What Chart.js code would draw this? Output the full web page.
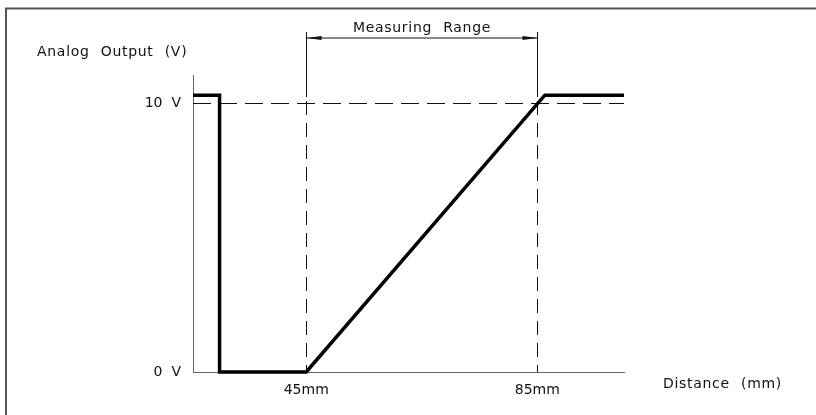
<!DOCTYPE html>
<html>
<head>
<meta charset="utf-8">
<script src="https://cdn.jsdelivr.net/npm/chart.js@4.4.1/dist/chart.umd.min.js"></script>
<style>
  html, body { margin: 0; padding: 0; background: #fff; }
  #wrap { width: 816px; height: 415px; position: relative; }
</style>
</head>
<body>
<div id="wrap"><canvas id="c" width="816" height="415"></canvas></div>
<script>
// ---- data ----
const distanceMm = [25.4, 30, 30, 45, 86.3, 100];
const outputV    = [10.3, 10.3, 0, 0, 10.3, 10.3];
const xTicks = [45, 85];
const xTickLabels = ['45mm', '85mm'];
const yTicks = [0, 10];
const yTickLabels = ['0  V', '10  V'];
const rangeStart = 45;
const rangeEnd = 85;
const fullScaleV = 10;
const yTitle = 'Analog Output (V)';
const xTitle = 'Distance (mm)';
const rangeTitle = 'Measuring Range';

const FONT = '"DejaVu Sans", sans-serif';

const overlay = {
  id: 'overlay',
  beforeDraw(chart) {
    const ctx = chart.ctx;
    ctx.save();
    ctx.strokeStyle = '#555';
    ctx.lineWidth = 2;
    ctx.beginPath();
    ctx.moveTo(816, 8.5); ctx.lineTo(6, 8.5); ctx.lineTo(6, 415);
    ctx.stroke();
    ctx.restore();
  },
  beforeDatasetsDraw(chart) {
    const ctx = chart.ctx;
    const xs = chart.scales.x, ys = chart.scales.y;
    const a = chart.chartArea;
    ctx.save();
    ctx.strokeStyle = '#111';
    ctx.lineWidth = 1;
    const y10 = Math.round(ys.getPixelForValue(fullScaleV)) + 0.5;
    ctx.setLineDash([18, 8]);
    ctx.beginPath();
    ctx.moveTo(a.left, y10); ctx.lineTo(a.right, y10);
    ctx.stroke();
    const top = 32;
    const solidEnd = 97;
    [rangeStart, rangeEnd].forEach(v => {
      const x = Math.round(xs.getPixelForValue(v)) + 0.5;
      ctx.setLineDash([]);
      ctx.beginPath(); ctx.moveTo(x, top); ctx.lineTo(x, solidEnd); ctx.stroke();
      ctx.setLineDash([14, 8]);
      ctx.beginPath(); ctx.moveTo(x, solidEnd + 4); ctx.lineTo(x, a.bottom); ctx.stroke();
    });
    const x1 = Math.round(xs.getPixelForValue(rangeStart)) + 0.5;
    const x2 = Math.round(xs.getPixelForValue(rangeEnd)) + 0.5;
    const yd = 38;
    ctx.setLineDash([]);
    ctx.beginPath(); ctx.moveTo(x1, yd); ctx.lineTo(x2, yd); ctx.stroke();
    ctx.fillStyle = '#111';
    ctx.beginPath(); ctx.moveTo(x1, yd); ctx.lineTo(x1 + 15, yd - 2); ctx.lineTo(x1 + 15, yd + 2); ctx.closePath(); ctx.fill();
    ctx.beginPath(); ctx.moveTo(x2, yd); ctx.lineTo(x2 - 15, yd - 2); ctx.lineTo(x2 - 15, yd + 2); ctx.closePath(); ctx.fill();
    ctx.font = '14px ' + FONT;
    ctx.fillStyle = '#111';
    ctx.textBaseline = 'middle';
    ctx.wordSpacing = '6px';
    ctx.letterSpacing = '0.7px';
    ctx.textAlign = 'center';
    ctx.fillText(rangeTitle, (x1 + x2) / 2, 28);
    ctx.textAlign = 'left';
    ctx.fillText(yTitle, 37, 52);
    ctx.fillText(xTitle, 663, 384);
    ctx.restore();
  }
};

new Chart(document.getElementById('c'), {
  type: 'line',
  data: {
    datasets: [{
      data: distanceMm.map((x, i) => ({ x, y: outputV[i] })),
      borderColor: '#000',
      borderWidth: 3.5,
      pointRadius: 0,
      tension: 0,
      fill: false,
      borderJoinStyle: 'miter',
      clip: 4
    }]
  },
  options: {
    responsive: false,
    animation: false,
    events: [],
    layout: { padding: { left: 0, top: 75, right: 192, bottom: 0 } },
    plugins: { legend: { display: false }, tooltip: { enabled: false }, title: { display: false } },
    scales: {
      x: {
        type: 'linear',
        min: 25.4, max: 100,
        afterFit(s) { s.height = 43; },
        afterBuildTicks(s) { s.ticks = xTicks.map(v => ({ value: v })); },
        grid: { display: false, drawTicks: false },
        border: { display: true, color: '#666', width: 1 },
        ticks: {
          padding: 10,
          maxRotation: 0,
          autoSkip: false,
          color: '#111',
          font: { family: FONT, size: 14 },
          callback: (v) => xTickLabels[xTicks.indexOf(v)]
        }
      },
      y: {
        type: 'linear',
        min: 0, max: 11.05,
        afterFit(s) { s.width = 193; },
        afterBuildTicks(s) { s.ticks = yTicks.map(v => ({ value: v })); },
        grid: { display: false, drawTicks: false },
        border: { display: true, color: '#666', width: 1 },
        ticks: {
          padding: 12,
          autoSkip: false,
          color: '#111',
          font: { family: FONT, size: 14 },
          callback: (v) => yTickLabels[yTicks.indexOf(v)]
        }
      }
    }
  },
  plugins: [overlay]
});
</script>
</body>
</html>
